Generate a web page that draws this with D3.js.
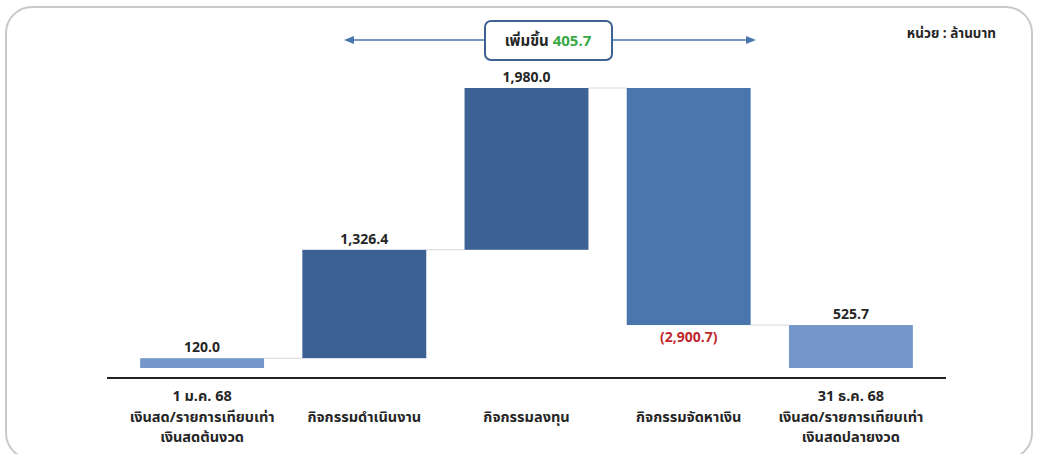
<!DOCTYPE html>
<html lang="th">
<head>
<meta charset="utf-8">
<title>กระแสเงินสด</title>
<script src="https://cdnjs.cloudflare.com/ajax/libs/d3/7.8.5/d3.min.js"></script>
<style>
  body { margin: 0; background: #fff; }
  text { font-family: "Noto Sans Thai", "Noto Sans", "Open Sans", sans-serif; font-weight: 700; fill: #262626; }
</style>
</head>
<body>
<script>
// data
var categories = [
  ["1 ม.ค. 68", "เงินสด/รายการเทียบเท่า", "เงินสดต้นงวด"],
  ["กิจกรรมดำเนินงาน"],
  ["กิจกรรมลงทุน"],
  ["กิจกรรมจัดหาเงิน"],
  ["31 ธ.ค. 68", "เงินสด/รายการเทียบเท่า", "เงินสดปลายงวด"]
];
var values = [120.0, 1326.4, 1980.0, -2900.7, 525.7];
var kinds = ["total", "delta", "delta", "delta", "total"];
var labels = ["120.0", "1,326.4", "1,980.0", "(2,900.7)", "525.7"];
var changeLabel = "เพิ่มขึ้น";
var changeValue = "405.7";
var unitLabel = "หน่วย : ล้านบาท";

var w = 1037, h = 454;
var barColors = ["#7496c8", "#3d6193", "#3d6193", "#4a76ae", "#7496c8"];

var svg = d3.select("body").append("svg").attr("width", w).attr("height", h);

// frame
svg.append("rect")
  .attr("x", 6).attr("y", 7).attr("width", 1026).attr("height", 452)
  .attr("rx", 26).attr("fill", "none")
  .attr("stroke", "#c9c9c9").attr("stroke-width", 2);

// compute waterfall segments
var run = 0;
var segs = values.map(function(v, i) {
  var s;
  if (kinds[i] == "total") { s = { y0: 0, y1: v }; run = v; }
  else { s = { y0: run, y1: run + v }; run = run + v; }
  s.i = i; s.v = v;
  return s;
});

var x = d3.scaleBand()
  .domain(d3.range(categories.length))
  .range([121, 932])
  .paddingInner(0.236)
  .paddingOuter(0.118);

var y = d3.scaleLinear()
  .domain([0, d3.max(segs, function(d) { return Math.max(d.y0, d.y1); })])
  .range([368, 88]);

// connectors
for (var i = 0; i < segs.length - 1; i++) {
  var lvl = segs[i].y1;
  svg.append("line")
    .attr("x1", x(i) + x.bandwidth()).attr("x2", x(i + 1))
    .attr("y1", y(lvl)).attr("y2", y(lvl))
    .attr("stroke", "#d8d8d8").attr("stroke-width", 1);
}

// bars
svg.selectAll("rect.bar")
  .data(segs)
  .enter()
  .append("rect")
  .attr("class", "bar")
  .attr("x", function(d) { return x(d.i); })
  .attr("width", x.bandwidth())
  .attr("y", function(d) { return y(Math.max(d.y0, d.y1)); })
  .attr("height", function(d) { return Math.abs(y(d.y0) - y(d.y1)); })
  .attr("fill", function(d, i) { return barColors[i]; });

// value labels
svg.selectAll("text.val")
  .data(segs)
  .enter()
  .append("text")
  .attr("class", "val")
  .attr("x", function(d) { return x(d.i) + x.bandwidth() / 2; })
  .attr("y", function(d) {
    if (d.v < 0) return y(Math.min(d.y0, d.y1)) + 17;
    return y(Math.max(d.y0, d.y1)) - 6;
  })
  .attr("text-anchor", "middle")
  .style("font-size", "14px")
  .style("fill", function(d) { return d.v < 0 ? "#c0272d" : "#262626"; })
  .text(function(d, i) { return labels[i]; });

// axis line
svg.append("line")
  .attr("x1", 107).attr("x2", 946)
  .attr("y1", 378).attr("y2", 378)
  .attr("stroke", "#222").attr("stroke-width", 2);

// category labels
var lineH = 20.5;
categories.forEach(function(lines, i) {
  var t = svg.append("text")
    .attr("text-anchor", "middle")
    .style("font-size", "14.5px");
  var start = lines.length == 1 ? 1 : 0;
  lines.forEach(function(s, k) {
    t.append("tspan")
      .attr("x", x(i) + x.bandwidth() / 2)
      .attr("y", 401 + (start + k) * lineH)
      .text(s);
  });
});

// top arrow with change box
var arrowY = 40;
var defs = svg.append("defs");
["s", "e"].forEach(function(id) {
  defs.append("marker")
    .attr("id", "arr" + id)
    .attr("viewBox", "0 0 10 10")
    .attr("refX", 5).attr("refY", 5)
    .attr("markerWidth", 7).attr("markerHeight", 7)
    .attr("orient", "auto-start-reverse")
    .append("path")
    .attr("d", "M0,1 L10,5 L0,9 Z")
    .attr("fill", "#4a76ae");
});
svg.append("line")
  .attr("x1", 349).attr("x2", 751)
  .attr("y1", arrowY).attr("y2", arrowY)
  .attr("stroke", "#4a76ae").attr("stroke-width", 1.5)
  .attr("marker-start", "url(#arrs)")
  .attr("marker-end", "url(#arre)");

svg.append("rect")
  .attr("x", 485).attr("y", 21).attr("width", 127).attr("height", 39)
  .attr("rx", 6).attr("fill", "#fff")
  .attr("stroke", "#3d6193").attr("stroke-width", 2);

var ct = svg.append("text")
  .attr("x", 548).attr("y", 46)
  .attr("text-anchor", "middle")
  .style("font-size", "15px");
ct.append("tspan").text(changeLabel + " ");
ct.append("tspan").style("fill", "#3aa845").text(changeValue);

// unit
svg.append("text")
  .attr("x", 996).attr("y", 38)
  .attr("text-anchor", "end")
  .style("font-size", "13.5px")
  .text(unitLabel);
</script>
</body>
</html>
